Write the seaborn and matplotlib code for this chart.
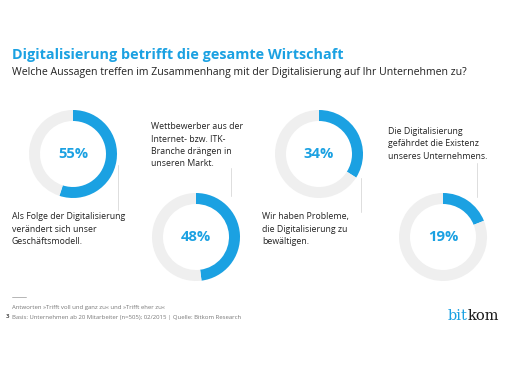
import numpy as np
import matplotlib
matplotlib.use("Agg")
import matplotlib.pyplot as plt
import seaborn as sns

# data
shares = [55, 48, 34, 19]
statements = [
    "Als Folge der Digitalisierung\nverändert sich unser\nGeschäftsmodell.",
    "Wettbewerber aus der\nInternet- bzw. ITK-\nBranche drängen in\nunseren Markt.",
    "Wir haben Probleme,\ndie Digitalisierung zu\nbewältigen.",
    "Die Digitalisierung\ngefährdet die Existenz\nunseres Unternehmens.",
]
title = "Digitalisierung betrifft die gesamte Wirtschaft"
subtitle = "Welche Aussagen treffen im Zusammenhang mit der Digitalisierung auf Ihr Unternehmen zu?"
footnotes = [
    "Antworten »Trifft voll und ganz zu« und »Trifft eher zu«",
    "Basis: Unternehmen ab 20 Mitarbeiter (n=505); 02/2015 | Quelle: Bitkom Research",
]

# layout (pixel coords, y down)
centers = [(73, 154), (196, 237), (319, 154), (443, 237)]
label_pos = [(12, 212), (151, 122), (262, 212), (388, 127)]
connectors = [((118, 165), (118, 210)), ((231, 168), (231, 196)),
              ((361, 178), (361, 212)), ((477, 163), (477, 197))]
R = 44
RING = 11

BLUE = "#1ba1e2"
GREY = "#efefef"
DARK = "#222222"

sns.set_theme(style="white")
plt.rcParams["font.family"] = ["Open Sans", "DejaVu Sans"]

fig = plt.figure(figsize=(5.12, 3.84), dpi=100)
ax = fig.add_axes([0, 0, 1, 1])

for val, (cx, cy) in zip(shares, centers):
    ax.pie([val, 100 - val], colors=[BLUE, GREY], center=(cx, cy), radius=R,
           startangle=-90, counterclock=True,
           wedgeprops=dict(width=RING, linewidth=0))
    ax.text(cx, cy, f"{val}%", ha="center", va="center", color=BLUE,
            fontsize=10.6, fontweight="bold")

for txt, (x, y) in zip(statements, label_pos):
    ax.text(x, y, txt, ha="left", va="top", color=DARK, fontsize=6.3,
            linespacing=1.5)

for (p0, p1) in connectors:
    ax.plot([p0[0], p1[0]], [p0[1], p1[1]], color="#dddddd", lw=0.7)

ax.text(12, 55, title, ha="left", va="center", color=BLUE, fontsize=10.4,
        fontweight="bold")
ax.text(12, 73, subtitle, ha="left", va="center", color=DARK, fontsize=7.6)

# footer
ax.plot([12, 26], [297, 297], color="#aaaaaa", lw=0.6)
ax.text(12, 307, footnotes[0], ha="left", va="center", color="#777777", fontsize=4.3)
ax.text(12, 317, footnotes[1], ha="left", va="center", color="#777777", fontsize=4.3)
ax.text(6, 317, "3", ha="left", va="center", color="#555555", fontsize=4.3,
        fontweight="bold")
bit = ax.text(448, 320, "bit", ha="left", va="baseline", color=BLUE,
              fontsize=10.5, family="DejaVu Serif")
ax.annotate("kom", xy=(1, 0), xycoords=bit, xytext=(0, 0),
            textcoords="offset points", ha="left", va="bottom",
            color="#1a1a1a", fontsize=10.5, family="DejaVu Serif")

ax.set_xlim(0, 512)
ax.set_ylim(384, 0)
ax.set_aspect("auto")
ax.axis("off")

fig.savefig("out.png", dpi=100, facecolor="white")
